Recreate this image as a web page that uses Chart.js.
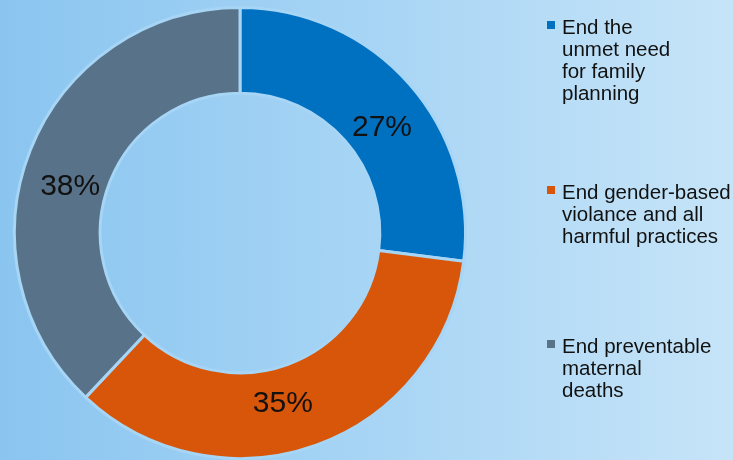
<!DOCTYPE html>
<html>
<head>
<meta charset="utf-8">
<script src="https://cdn.jsdelivr.net/npm/chart.js@4/dist/chart.umd.min.js"></script>
<style>
    html, body { margin: 0; padding: 0; overflow: hidden; }
    body {
        width: 733px;
        height: 460px;
        background: linear-gradient(to right, #8ac5f0 0%, #a4d3f4 45%, #c6e4f8 100%);
    }
    canvas { display: block; }
</style>
</head>
<body>
<canvas id="goalChart" width="733" height="460"></canvas>
<script>
// dados do gráfico
const categories = [
    ['End the', 'unmet need', 'for family', 'planning'],
    ['End gender-based', 'violance and all', 'harmful practices'],
    ['End preventable', 'maternal', 'deaths']
];
const shares = [27, 35, 38];
const sliceColors = ['#0070c0', '#d8560a', '#587389'];

// ajuste fino das etiquetas (px) relativo ao centro do arco
const labelShift = [[5, 16], [-19, -1], [0, 21]];

const percentLabels = {
    id: 'percentLabels',
    afterDatasetsDraw(chart) {
        const ctx = chart.ctx;
        const meta = chart.getDatasetMeta(0);
        ctx.save();
        ctx.font = '30px "Liberation Sans", Arial, sans-serif';
        ctx.fillStyle = '#111';
        ctx.textAlign = 'center';
        ctx.textBaseline = 'middle';
        meta.data.forEach((arc, i) => {
            const p = arc.getCenterPoint();
            ctx.fillText(shares[i] + '%', p.x + labelShift[i][0], p.y + labelShift[i][1]);
        });
        ctx.restore();
    }
};

const sideLegend = {
    id: 'sideLegend',
    afterDraw(chart) {
        const ctx = chart.ctx;
        const x = 562;
        const lineH = 22;
        const firstCenter = 64;
        const step = 154;
        ctx.save();
        ctx.font = '20.5px "Liberation Sans", Arial, sans-serif';
        ctx.textBaseline = 'alphabetic';
        categories.forEach((lines, i) => {
            const blockH = lines.length * lineH;
            const top = firstCenter + i * step - blockH / 2;
            ctx.fillStyle = sliceColors[i];
            ctx.fillRect(x - 15, top + 1, 8, 8);
            ctx.fillStyle = '#111';
            lines.forEach((t, j) => {
                ctx.fillText(t, x, top + 14 + j * lineH);
            });
        });
        ctx.restore();
    }
};

new Chart(document.getElementById('goalChart').getContext('2d'), {
    type: 'doughnut',
    data: {
        labels: categories.map(l => l.join(' ')),
        datasets: [{
            data: shares,
            backgroundColor: sliceColors,
            borderColor: '#a6d5f5',
            borderWidth: 3
        }]
    },
    options: {
        responsive: false,
        animation: false,
        cutout: '62%',
        layout: { padding: { left: 12, top: 6, right: 265, bottom: -2 } },
        plugins: {
            legend: { display: false },
            tooltip: { enabled: false }
        }
    },
    plugins: [percentLabels, sideLegend]
});
</script>
</body>
</html>
